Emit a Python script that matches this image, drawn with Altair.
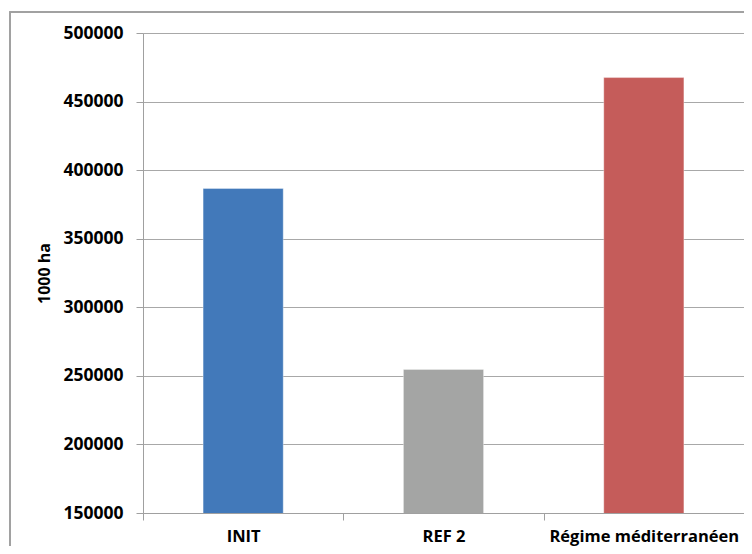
import altair as alt
import pandas as pd

categories = ["INIT", "REF 2", "Régime méditerranéen"]
values = [386600, 254700, 467500]
colors = ["#4279BA", "#A4A5A4", "#C55C5A"]
y_ticks = [150000, 200000, 250000, 300000, 350000, 400000, 450000, 500000]

df = pd.DataFrame({"cat": categories, "val": values})

FONT = "Open Sans"
W, H = 601, 480

bars = alt.Chart(df).mark_bar(
    width=alt.RelativeBandSize(0.4),
    stroke="#ffffff", strokeOpacity=0.35, strokeWidth=1, clip=True,
).encode(
    x=alt.X("cat:N", sort=categories,
            scale=alt.Scale(paddingInner=0, paddingOuter=0),
            axis=alt.Axis(title=None, labelAngle=0, tickBand="extent", tickSize=7,
                          tickColor="#A0A0A0", domainColor="#A0A0A0", labelPadding=8,
                          labelFont=FONT, labelFontWeight="bold", labelFontSize=16.5,
                          labelLimit=0, labelColor="#000000", grid=False)),
    y=alt.Y("val:Q", scale=alt.Scale(domain=[150000, 500000], nice=False, zero=False),
            axis=alt.Axis(title="1000 ha", values=y_ticks, format="d", tickSize=7,
                          tickColor="#A0A0A0", domainColor="#A0A0A0", gridColor="#A8A8A8",
                          labelPadding=13, labelFont=FONT, labelFontWeight="bold",
                          labelFontSize=17.5, labelColor="#000000",
                          titleFont=FONT, titleFontWeight="bold", titleFontSize=16,
                          titleColor="#000000", titleAngle=-90, titleX=-99, titleY=H / 2,
                          titleAlign="center", titleBaseline="middle")),
    color=alt.Color("cat:N", scale=alt.Scale(domain=categories, range=colors), legend=None),
)

frame = alt.Chart(df).mark_rect(filled=False, stroke="#A0A0A0", strokeWidth=1.5).encode(
    x=alt.value(-133), x2=alt.value(620), y=alt.value(-21), y2=alt.value(540)
)

chart = alt.layer(frame, bars).properties(
    width=W, height=H,
    autosize=alt.AutoSizeParams(type="none"),
    padding={"left": 135, "top": 25, "right": 0, "bottom": 33},
).configure_view(stroke=None).configure(background="#ffffff")

chart.save("out.html", embed_options={"renderer": "svg", "actions": False})
